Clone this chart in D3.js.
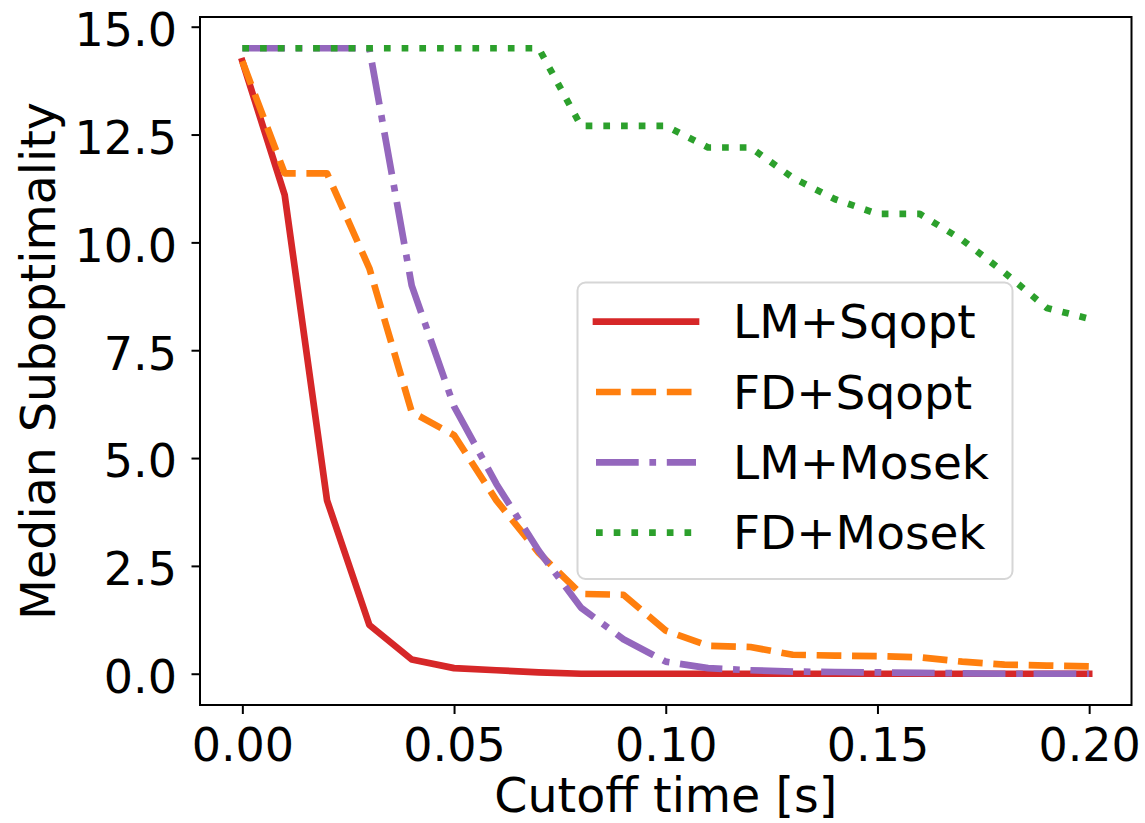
<!DOCTYPE html>
<html lang="en">
<head>
<meta charset="UTF-8">
<title>Median Suboptimality</title>
<style>
  body { margin: 0; background: #fff; }
  text { font-family: "DejaVu Sans", sans-serif; }
</style>
</head>
<body>
<div id="chart"></div>
<script src="https://d3js.org/d3.v7.min.js"></script>
<script>
// cutoff times [s]
var times = [0.00, 0.01, 0.02, 0.03, 0.04, 0.05, 0.06, 0.07, 0.08, 0.09, 0.10,
             0.11, 0.12, 0.13, 0.14, 0.15, 0.16, 0.17, 0.18, 0.19, 0.20];

var lmSqopt = [14.2, 11.1, 4.02, 1.13, 0.33, 0.13, 0.08, 0.03, 0.0, 0.0, 0.0,
               0.0, 0.0, 0.0, 0.0, 0.0, 0.0, 0.0, 0.0, 0.0, 0.0];
var fdSqopt = [14.2, 11.6, 11.6, 9.4, 6.07, 5.53, 4.02, 2.8, 1.85, 1.83, 1.0,
               0.65, 0.62, 0.44, 0.42, 0.41, 0.38, 0.28, 0.21, 0.19, 0.17];
var lmMosek = [14.5, 14.5, 14.5, 14.5, 9.0, 6.2, 4.4, 2.85, 1.53, 0.8, 0.28,
               0.13, 0.08, 0.05, 0.04, 0.03, 0.02, 0.01, 0.0, 0.0, 0.0];
var fdMosek = [14.5, 14.5, 14.5, 14.5, 14.5, 14.5, 14.5, 14.5, 12.7, 12.7, 12.7,
               12.2, 12.2, 11.5, 11.0, 10.66, 10.66, 10.06, 9.3, 8.48, 8.23];

var seriesNames = ["LM+Sqopt", "FD+Sqopt", "LM+Mosek", "FD+Mosek"];
var seriesValues = [lmSqopt, fdSqopt, lmMosek, fdMosek];
var seriesColors = ["#d62728", "#ff7f0e", "#9467bd", "#2ca02c"];
var seriesDash = [null, "24.7,10.7", "42.7,10.7,6.7,10.7", "6.7,11"];

var xTicks = [0, 0.05, 0.10, 0.15, 0.20];
var yTicks = [0, 2.5, 5, 7.5, 10, 12.5, 15];

var W = 1145, H = 823;
var plot = {left: 200, right: 1131.5, top: 17, bottom: 705};
var lw = 6.7;

var svg = d3.select("#chart").append("svg")
    .attr("width", W).attr("height", H);

var x = d3.scaleLinear().domain([-0.01, 0.21]).range([plot.left, plot.right]);
var y = d3.scaleLinear().domain([-0.725, 15.225]).range([plot.bottom, plot.top]);

// lines
var line = d3.line()
    .x(function(d, i) { return x(times[i]); })
    .y(function(d) { return y(d); });

seriesValues.forEach(function(vals, k) {
    svg.append("path")
        .attr("d", line(vals))
        .attr("fill", "none")
        .attr("stroke", seriesColors[k])
        .attr("stroke-width", lw)
        .attr("stroke-linejoin", "round")
        .attr("stroke-linecap", seriesDash[k] ? "butt" : "square")
        .attr("stroke-dasharray", seriesDash[k]);
});

// axes
var xAxis = svg.append("g")
    .attr("transform", "translate(0," + plot.bottom + ")")
    .call(d3.axisBottom(x).tickValues(xTicks).tickSize(9).tickPadding(14)
        .tickFormat(d3.format(".2f")));
var yAxis = svg.append("g")
    .attr("transform", "translate(" + plot.left + ",0)")
    .call(d3.axisLeft(y).tickValues(yTicks).tickSize(8.5).tickPadding(14.5)
        .tickFormat(d3.format(".1f")));

[xAxis, yAxis].forEach(function(a) {
    a.select(".domain").remove();
    a.selectAll(".tick line").attr("stroke", "#000").attr("stroke-width", 2);
    a.selectAll(".tick text").attr("fill", "#000")
        .style("font-size", "46px").style("font-family", "DejaVu Sans");
});
yAxis.selectAll(".tick text").attr("dy", "0.41em");

// frame
svg.append("rect")
    .attr("x", plot.left).attr("y", plot.top)
    .attr("width", plot.right - plot.left).attr("height", plot.bottom - plot.top)
    .attr("fill", "none").attr("stroke", "#000").attr("stroke-width", 2);

// axis labels
svg.append("text")
    .attr("x", (plot.left + plot.right) / 2).attr("y", 812)
    .attr("text-anchor", "middle")
    .style("font-size", "47.5px")
    .text("Cutoff time [s]");

svg.append("text")
    .attr("transform", "translate(55," + ((plot.top + plot.bottom) / 2) + ") rotate(-90)")
    .attr("text-anchor", "middle")
    .style("font-size", "47.5px")
    .text("Median Suboptimality");

// legend
var leg = svg.append("g");
leg.append("rect")
    .attr("x", 577.5).attr("y", 282.5).attr("width", 435).attr("height", 296.5)
    .attr("rx", 8).attr("ry", 8)
    .attr("fill", "#fff").attr("fill-opacity", 0.8)
    .attr("stroke", "#d6d6d6").attr("stroke-width", 2);

seriesNames.forEach(function(name, k) {
    var cy = 321.7 + k * 70.3;
    leg.append("line")
        .attr("x1", 596).attr("x2", 696).attr("y1", cy).attr("y2", cy)
        .attr("stroke", seriesColors[k])
        .attr("stroke-width", lw)
        .attr("stroke-linecap", seriesDash[k] ? "butt" : "square")
        .attr("stroke-dasharray", seriesDash[k]);
    leg.append("text")
        .attr("x", 733).attr("y", cy + 16.6)
        .style("font-size", "47px")
        .text(name);
});
</script>
</body>
</html>
